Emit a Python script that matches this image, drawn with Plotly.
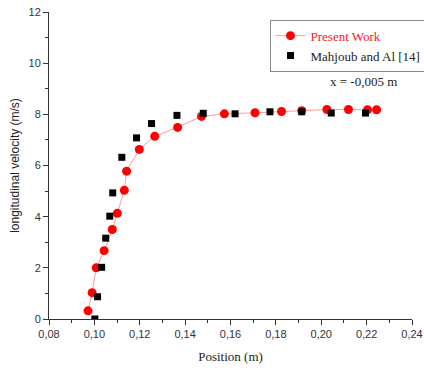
import plotly.graph_objects as go

present_x = [0.0972, 0.0990, 0.1008, 0.1043, 0.1079, 0.1101, 0.1132, 0.1142, 0.1198,
             0.1266, 0.1367, 0.1472, 0.1573, 0.1708, 0.1825, 0.1914, 0.2025, 0.2120,
             0.2204, 0.2244]
present_y = [0.32, 1.03, 2.00, 2.67, 3.50, 4.13, 5.03, 5.78, 6.63,
             7.14, 7.49, 7.92, 8.02, 8.06, 8.11, 8.14, 8.19, 8.19,
             8.18, 8.18]

mahjoub_x = [0.1002, 0.1014, 0.1032, 0.1050, 0.1068, 0.1081, 0.1121, 0.1186, 0.1252,
             0.1364, 0.1480, 0.1620, 0.1774, 0.1914, 0.2044, 0.2195]
mahjoub_y = [0.00, 0.87, 2.02, 3.16, 4.02, 4.93, 6.32, 7.08, 7.64,
             7.96, 8.04, 8.02, 8.10, 8.10, 8.05, 8.05]

fig = go.Figure()
fig.add_trace(go.Scatter(
    x=present_x, y=present_y, mode="lines+markers",
    name='<span style="color:#ff2020">Present Work</span>',
    line=dict(color="#ff9a9a", width=1),
    marker=dict(color="#ff0000", size=9, symbol="circle"),
))
fig.add_trace(go.Scatter(
    x=mahjoub_x, y=mahjoub_y, mode="markers", name="Mahjoub and Al [14]",
    marker=dict(color="#000000", size=7, symbol="square"),
))

fig.update_layout(
    width=424, height=371,
    margin=dict(l=49, r=12, t=12, b=52, autoexpand=False),
    paper_bgcolor="white", plot_bgcolor="white",
    separators=",.",
    showlegend=True,
    legend=dict(
        x=1.04, y=0.975, xanchor="right", yanchor="top",
        bordercolor="#888888", borderwidth=1, bgcolor="white",
        font=dict(family="Liberation Serif", size=13, color="#222222"),
        tracegroupgap=0, itemwidth=30,
    ),
    xaxis=dict(
        range=[0.08, 0.24], dtick=0.02, tick0=0.08, tickformat=".2f",
        showgrid=False, zeroline=False, showline=True, linecolor="#333333", linewidth=1,
        ticks="outside", ticklen=5, tickcolor="#333333", ticklabeloverflow="allow",
        minor=dict(ticks="outside", ticklen=3, dtick=0.01, tickcolor="#333333"),
        tickfont=dict(family="Liberation Sans", size=11, color="#333333"),
        title=dict(text="Position (m)", font=dict(family="Liberation Serif", size=13, color="#222222"), standoff=12),
    ),
    yaxis=dict(
        range=[0, 12], dtick=2, tick0=0,
        showgrid=False, zeroline=False, showline=True, linecolor="#333333", linewidth=1,
        ticks="outside", ticklen=5, tickcolor="#333333",
        minor=dict(ticks="outside", ticklen=3, dtick=1, tickcolor="#333333"),
        tickfont=dict(family="Liberation Sans", size=11, color="#333333"),
        title=dict(text="longitudinal velocity (m/s)", font=dict(family="Liberation Sans", size=12, color="#222222"), standoff=6),
    ),
    annotations=[dict(
        x=0.866, y=0.772, xref="paper", yref="paper", showarrow=False,
        xanchor="center", yanchor="middle",
        text="x = -0,005 m", font=dict(family="Liberation Serif", size=13, color="#222222"),
    )],
)
fig.write_html("out.html")
